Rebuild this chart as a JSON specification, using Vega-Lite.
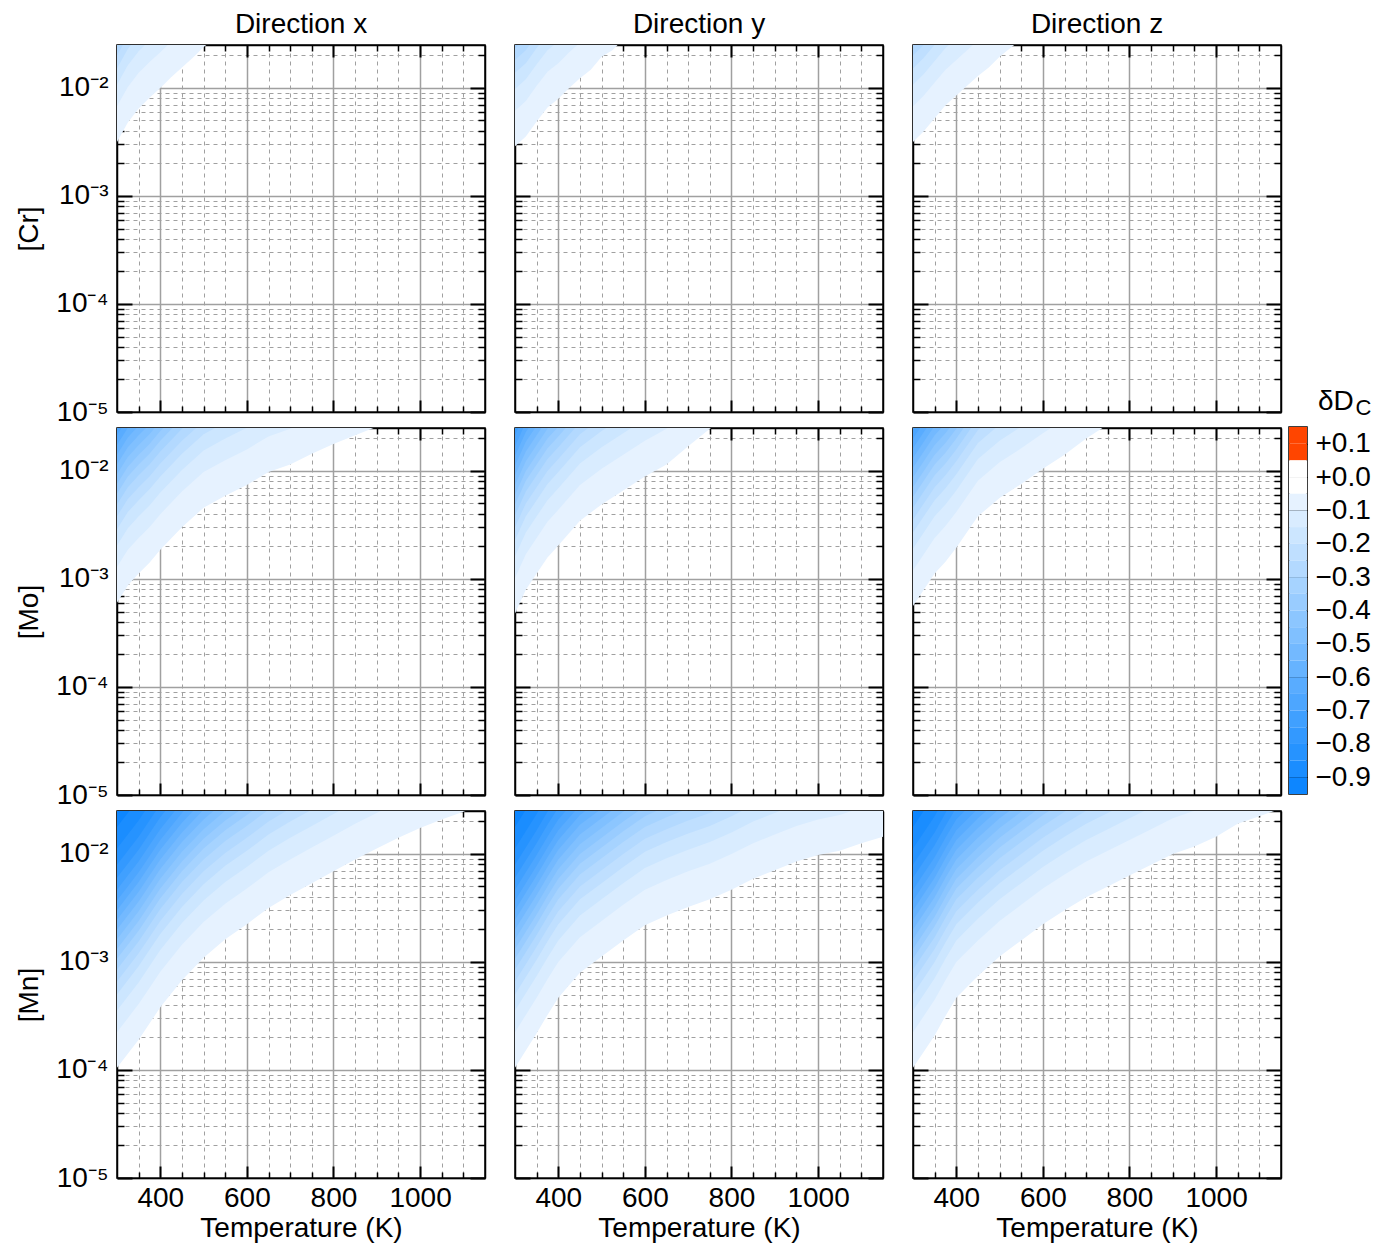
{
"$schema":"https://vega.github.io/schema/vega-lite/v6.json",
"background":"white",
"padding":{"left":15,"top":10,"right":5,"bottom":5},
"config":{"font":"Liberation Sans","view":{"stroke":"black","strokeWidth":1.5},
"axis":{"labelFontSize":28,"titleFontSize":28,"titleFontWeight":"normal","labelColor":"black","titleColor":"black","tickColor":"black","domainColor":"black","gridColor":"#a0a0a0","zindex":1,"labelFlush":false,"labelOverlap":false,"labelBound":false},
"title":{"fontSize":28,"fontWeight":"normal","color":"black"}},
"datasets":{
"cbar":[{"k":-3,"lo":0.1,"hi":0.15},{"k":-2,"lo":0.05,"hi":0.1},{"k":-1,"lo":0,"hi":0.05},{"k":0,"lo":-0.05,"hi":0},{"k":1,"lo":-0.1,"hi":-0.05},{"k":2,"lo":-0.15,"hi":-0.1},{"k":3,"lo":-0.2,"hi":-0.15},{"k":4,"lo":-0.25,"hi":-0.2},{"k":5,"lo":-0.3,"hi":-0.25},{"k":6,"lo":-0.35,"hi":-0.3},{"k":7,"lo":-0.4,"hi":-0.35},{"k":8,"lo":-0.45,"hi":-0.4},{"k":9,"lo":-0.5,"hi":-0.45},{"k":10,"lo":-0.55,"hi":-0.5},{"k":11,"lo":-0.6,"hi":-0.55},{"k":12,"lo":-0.65,"hi":-0.6},{"k":13,"lo":-0.7,"hi":-0.65},{"k":14,"lo":-0.75,"hi":-0.7},{"k":15,"lo":-0.8,"hi":-0.75},{"k":16,"lo":-0.85,"hi":-0.8},{"k":17,"lo":-0.9,"hi":-0.85},{"k":18,"lo":-0.95,"hi":-0.9}],
"Crx":[{"k":1,"T":300,"v":-2.50},{"k":1,"T":325,"v":-2.32},{"k":1,"T":350,"v":-2.19},{"k":1,"T":375,"v":-2.09},{"k":1,"T":400,"v":-2.00},{"k":1,"T":425,"v":-1.90},{"k":1,"T":450,"v":-1.81},{"k":1,"T":475,"v":-1.72},{"k":1,"T":500,"v":-1.62},{"k":1,"T":525,"v":-1.55},
{"k":2,"T":300,"v":-2.17},{"k":2,"T":325,"v":-1.99},{"k":2,"T":350,"v":-1.86},{"k":2,"T":375,"v":-1.76},{"k":2,"T":400,"v":-1.67},{"k":2,"T":425,"v":-1.57},
{"k":3,"T":300,"v":-1.97},{"k":3,"T":325,"v":-1.79},{"k":3,"T":350,"v":-1.66},{"k":3,"T":375,"v":-1.56},
{"k":4,"T":300,"v":-1.82},{"k":4,"T":325,"v":-1.64},{"k":4,"T":350,"v":-1.51},
{"k":5,"T":300,"v":-1.70},{"k":5,"T":325,"v":-1.52}],
"Cry":[{"k":1,"T":300,"v":-2.54},{"k":1,"T":325,"v":-2.45},{"k":1,"T":350,"v":-2.31},{"k":1,"T":375,"v":-2.18},{"k":1,"T":400,"v":-2.10},{"k":1,"T":425,"v":-2.00},{"k":1,"T":450,"v":-1.91},{"k":1,"T":475,"v":-1.83},{"k":1,"T":500,"v":-1.71},{"k":1,"T":525,"v":-1.65},{"k":1,"T":550,"v":-1.55},
{"k":2,"T":300,"v":-2.21},{"k":2,"T":325,"v":-2.12},{"k":2,"T":350,"v":-1.98},{"k":2,"T":375,"v":-1.85},{"k":2,"T":400,"v":-1.77},{"k":2,"T":425,"v":-1.67},{"k":2,"T":450,"v":-1.58},
{"k":3,"T":300,"v":-2.01},{"k":3,"T":325,"v":-1.92},{"k":3,"T":350,"v":-1.78},{"k":3,"T":375,"v":-1.65},{"k":3,"T":400,"v":-1.57},
{"k":4,"T":300,"v":-1.86},{"k":4,"T":325,"v":-1.77},{"k":4,"T":350,"v":-1.63},{"k":4,"T":375,"v":-1.50},
{"k":5,"T":300,"v":-1.74},{"k":5,"T":325,"v":-1.65},{"k":5,"T":350,"v":-1.51},
{"k":6,"T":300,"v":-1.63},{"k":6,"T":325,"v":-1.54}],
"Crz":[{"k":1,"T":300,"v":-2.50},{"k":1,"T":325,"v":-2.40},{"k":1,"T":350,"v":-2.28},{"k":1,"T":375,"v":-2.16},{"k":1,"T":400,"v":-2.07},{"k":1,"T":425,"v":-1.98},{"k":1,"T":450,"v":-1.89},{"k":1,"T":475,"v":-1.81},{"k":1,"T":500,"v":-1.71},{"k":1,"T":525,"v":-1.63},{"k":1,"T":550,"v":-1.55},
{"k":2,"T":300,"v":-2.17},{"k":2,"T":325,"v":-2.07},{"k":2,"T":350,"v":-1.95},{"k":2,"T":375,"v":-1.83},{"k":2,"T":400,"v":-1.74},{"k":2,"T":425,"v":-1.65},{"k":2,"T":450,"v":-1.56},
{"k":3,"T":300,"v":-1.97},{"k":3,"T":325,"v":-1.87},{"k":3,"T":350,"v":-1.75},{"k":3,"T":375,"v":-1.63},{"k":3,"T":400,"v":-1.54},
{"k":4,"T":300,"v":-1.82},{"k":4,"T":325,"v":-1.72},{"k":4,"T":350,"v":-1.60},
{"k":5,"T":300,"v":-1.70},{"k":5,"T":325,"v":-1.60}],
"Mox":[{"k":1,"T":300,"v":-3.22},{"k":1,"T":325,"v":-3.06},{"k":1,"T":350,"v":-2.95},{"k":1,"T":375,"v":-2.85},{"k":1,"T":400,"v":-2.73},{"k":1,"T":450,"v":-2.52},{"k":1,"T":500,"v":-2.34},{"k":1,"T":550,"v":-2.23},{"k":1,"T":600,"v":-2.13},{"k":1,"T":650,"v":-2.01},{"k":1,"T":700,"v":-1.94},{"k":1,"T":750,"v":-1.84},{"k":1,"T":800,"v":-1.75},{"k":1,"T":850,"v":-1.67},{"k":1,"T":900,"v":-1.59},
{"k":2,"T":300,"v":-2.89},{"k":2,"T":325,"v":-2.73},{"k":2,"T":350,"v":-2.62},{"k":2,"T":375,"v":-2.52},{"k":2,"T":400,"v":-2.40},{"k":2,"T":450,"v":-2.19},{"k":2,"T":500,"v":-2.01},{"k":2,"T":550,"v":-1.90},{"k":2,"T":600,"v":-1.80},{"k":2,"T":650,"v":-1.68},{"k":2,"T":700,"v":-1.61},{"k":2,"T":750,"v":-1.51},
{"k":3,"T":300,"v":-2.69},{"k":3,"T":325,"v":-2.53},{"k":3,"T":350,"v":-2.42},{"k":3,"T":375,"v":-2.32},{"k":3,"T":400,"v":-2.20},{"k":3,"T":450,"v":-1.99},{"k":3,"T":500,"v":-1.81},{"k":3,"T":550,"v":-1.70},{"k":3,"T":600,"v":-1.60},
{"k":4,"T":300,"v":-2.54},{"k":4,"T":325,"v":-2.38},{"k":4,"T":350,"v":-2.27},{"k":4,"T":375,"v":-2.17},{"k":4,"T":400,"v":-2.05},{"k":4,"T":450,"v":-1.84},{"k":4,"T":500,"v":-1.66},{"k":4,"T":550,"v":-1.55},
{"k":5,"T":300,"v":-2.42},{"k":5,"T":325,"v":-2.26},{"k":5,"T":350,"v":-2.15},{"k":5,"T":375,"v":-2.05},{"k":5,"T":400,"v":-1.93},{"k":5,"T":450,"v":-1.72},{"k":5,"T":500,"v":-1.54},
{"k":6,"T":300,"v":-2.31},{"k":6,"T":325,"v":-2.15},{"k":6,"T":350,"v":-2.04},{"k":6,"T":375,"v":-1.94},{"k":6,"T":400,"v":-1.82},{"k":6,"T":450,"v":-1.61},{"k":6,"T":500,"v":-1.43},
{"k":7,"T":300,"v":-2.21},{"k":7,"T":325,"v":-2.05},{"k":7,"T":350,"v":-1.94},{"k":7,"T":375,"v":-1.84},{"k":7,"T":400,"v":-1.72},{"k":7,"T":450,"v":-1.51},
{"k":8,"T":300,"v":-2.12},{"k":8,"T":325,"v":-1.96},{"k":8,"T":350,"v":-1.85},{"k":8,"T":375,"v":-1.75},{"k":8,"T":400,"v":-1.63},{"k":8,"T":450,"v":-1.42},
{"k":9,"T":300,"v":-2.03},{"k":9,"T":325,"v":-1.87},{"k":9,"T":350,"v":-1.76},{"k":9,"T":375,"v":-1.66},{"k":9,"T":400,"v":-1.54},
{"k":10,"T":300,"v":-1.94},{"k":10,"T":325,"v":-1.78},{"k":10,"T":350,"v":-1.67},{"k":10,"T":375,"v":-1.57},
{"k":11,"T":300,"v":-1.85},{"k":11,"T":325,"v":-1.69},{"k":11,"T":350,"v":-1.58},
{"k":12,"T":300,"v":-1.76},{"k":12,"T":325,"v":-1.60},
{"k":13,"T":300,"v":-1.67},{"k":13,"T":325,"v":-1.51}],
"Moy":[{"k":1,"T":300,"v":-3.32},{"k":1,"T":325,"v":-3.10},{"k":1,"T":350,"v":-2.95},{"k":1,"T":375,"v":-2.80},{"k":1,"T":400,"v":-2.69},{"k":1,"T":450,"v":-2.46},{"k":1,"T":500,"v":-2.31},{"k":1,"T":550,"v":-2.18},{"k":1,"T":600,"v":-2.05},{"k":1,"T":650,"v":-1.94},{"k":1,"T":700,"v":-1.77},{"k":1,"T":750,"v":-1.61},{"k":1,"T":800,"v":-1.48},
{"k":2,"T":300,"v":-2.99},{"k":2,"T":325,"v":-2.77},{"k":2,"T":350,"v":-2.62},{"k":2,"T":375,"v":-2.47},{"k":2,"T":400,"v":-2.36},{"k":2,"T":450,"v":-2.13},{"k":2,"T":500,"v":-1.98},{"k":2,"T":550,"v":-1.85},{"k":2,"T":600,"v":-1.72},{"k":2,"T":650,"v":-1.61},{"k":2,"T":700,"v":-1.44},
{"k":3,"T":300,"v":-2.79},{"k":3,"T":325,"v":-2.57},{"k":3,"T":350,"v":-2.42},{"k":3,"T":375,"v":-2.27},{"k":3,"T":400,"v":-2.16},{"k":3,"T":450,"v":-1.93},{"k":3,"T":500,"v":-1.78},{"k":3,"T":550,"v":-1.65},{"k":3,"T":600,"v":-1.52},
{"k":4,"T":300,"v":-2.64},{"k":4,"T":325,"v":-2.42},{"k":4,"T":350,"v":-2.27},{"k":4,"T":375,"v":-2.12},{"k":4,"T":400,"v":-2.01},{"k":4,"T":450,"v":-1.78},{"k":4,"T":500,"v":-1.63},{"k":4,"T":550,"v":-1.50},
{"k":5,"T":300,"v":-2.52},{"k":5,"T":325,"v":-2.30},{"k":5,"T":350,"v":-2.15},{"k":5,"T":375,"v":-2.00},{"k":5,"T":400,"v":-1.89},{"k":5,"T":450,"v":-1.66},{"k":5,"T":500,"v":-1.51},
{"k":6,"T":300,"v":-2.41},{"k":6,"T":325,"v":-2.19},{"k":6,"T":350,"v":-2.04},{"k":6,"T":375,"v":-1.89},{"k":6,"T":400,"v":-1.78},{"k":6,"T":450,"v":-1.55},
{"k":7,"T":300,"v":-2.31},{"k":7,"T":325,"v":-2.09},{"k":7,"T":350,"v":-1.94},{"k":7,"T":375,"v":-1.79},{"k":7,"T":400,"v":-1.68},{"k":7,"T":450,"v":-1.45},
{"k":8,"T":300,"v":-2.22},{"k":8,"T":325,"v":-2.00},{"k":8,"T":350,"v":-1.85},{"k":8,"T":375,"v":-1.70},{"k":8,"T":400,"v":-1.59},
{"k":9,"T":300,"v":-2.13},{"k":9,"T":325,"v":-1.91},{"k":9,"T":350,"v":-1.76},{"k":9,"T":375,"v":-1.61},{"k":9,"T":400,"v":-1.50},
{"k":10,"T":300,"v":-2.04},{"k":10,"T":325,"v":-1.82},{"k":10,"T":350,"v":-1.67},{"k":10,"T":375,"v":-1.52},
{"k":11,"T":300,"v":-1.95},{"k":11,"T":325,"v":-1.73},{"k":11,"T":350,"v":-1.58},
{"k":12,"T":300,"v":-1.86},{"k":12,"T":325,"v":-1.64},{"k":12,"T":350,"v":-1.49},
{"k":13,"T":300,"v":-1.77},{"k":13,"T":325,"v":-1.55},
{"k":14,"T":300,"v":-1.67},{"k":14,"T":325,"v":-1.45}],
"Moz":[{"k":1,"T":300,"v":-3.25},{"k":1,"T":325,"v":-3.10},{"k":1,"T":350,"v":-2.95},{"k":1,"T":375,"v":-2.84},{"k":1,"T":400,"v":-2.71},{"k":1,"T":450,"v":-2.42},{"k":1,"T":500,"v":-2.25},{"k":1,"T":550,"v":-2.12},{"k":1,"T":600,"v":-1.98},{"k":1,"T":650,"v":-1.85},{"k":1,"T":700,"v":-1.70},{"k":1,"T":750,"v":-1.57},
{"k":2,"T":300,"v":-2.92},{"k":2,"T":325,"v":-2.77},{"k":2,"T":350,"v":-2.62},{"k":2,"T":375,"v":-2.51},{"k":2,"T":400,"v":-2.38},{"k":2,"T":450,"v":-2.09},{"k":2,"T":500,"v":-1.92},{"k":2,"T":550,"v":-1.79},{"k":2,"T":600,"v":-1.65},{"k":2,"T":650,"v":-1.52},
{"k":3,"T":300,"v":-2.72},{"k":3,"T":325,"v":-2.57},{"k":3,"T":350,"v":-2.42},{"k":3,"T":375,"v":-2.31},{"k":3,"T":400,"v":-2.18},{"k":3,"T":450,"v":-1.89},{"k":3,"T":500,"v":-1.72},{"k":3,"T":550,"v":-1.59},
{"k":4,"T":300,"v":-2.57},{"k":4,"T":325,"v":-2.42},{"k":4,"T":350,"v":-2.27},{"k":4,"T":375,"v":-2.16},{"k":4,"T":400,"v":-2.03},{"k":4,"T":450,"v":-1.74},{"k":4,"T":500,"v":-1.57},
{"k":5,"T":300,"v":-2.45},{"k":5,"T":325,"v":-2.30},{"k":5,"T":350,"v":-2.15},{"k":5,"T":375,"v":-2.04},{"k":5,"T":400,"v":-1.91},{"k":5,"T":450,"v":-1.62},{"k":5,"T":500,"v":-1.45},
{"k":6,"T":300,"v":-2.34},{"k":6,"T":325,"v":-2.19},{"k":6,"T":350,"v":-2.04},{"k":6,"T":375,"v":-1.93},{"k":6,"T":400,"v":-1.80},{"k":6,"T":450,"v":-1.51},
{"k":7,"T":300,"v":-2.24},{"k":7,"T":325,"v":-2.09},{"k":7,"T":350,"v":-1.94},{"k":7,"T":375,"v":-1.83},{"k":7,"T":400,"v":-1.70},{"k":7,"T":450,"v":-1.41},
{"k":8,"T":300,"v":-2.15},{"k":8,"T":325,"v":-2.00},{"k":8,"T":350,"v":-1.85},{"k":8,"T":375,"v":-1.74},{"k":8,"T":400,"v":-1.61},{"k":8,"T":450,"v":-1.32},
{"k":9,"T":300,"v":-2.06},{"k":9,"T":325,"v":-1.91},{"k":9,"T":350,"v":-1.76},{"k":9,"T":375,"v":-1.65},{"k":9,"T":400,"v":-1.52},
{"k":10,"T":300,"v":-1.97},{"k":10,"T":325,"v":-1.82},{"k":10,"T":350,"v":-1.67},{"k":10,"T":375,"v":-1.56},
{"k":11,"T":300,"v":-1.88},{"k":11,"T":325,"v":-1.73},{"k":11,"T":350,"v":-1.58},
{"k":12,"T":300,"v":-1.79},{"k":12,"T":325,"v":-1.64},{"k":12,"T":350,"v":-1.49},
{"k":13,"T":300,"v":-1.70},{"k":13,"T":325,"v":-1.55}],
"Mnx":[{"k":1,"T":300,"v":-3.98},{"k":1,"T":325,"v":-3.85},{"k":1,"T":350,"v":-3.72},{"k":1,"T":375,"v":-3.57},{"k":1,"T":400,"v":-3.42},{"k":1,"T":450,"v":-3.17},{"k":1,"T":500,"v":-2.96},{"k":1,"T":550,"v":-2.79},{"k":1,"T":600,"v":-2.65},{"k":1,"T":650,"v":-2.50},{"k":1,"T":700,"v":-2.38},{"k":1,"T":750,"v":-2.27},{"k":1,"T":800,"v":-2.16},{"k":1,"T":850,"v":-2.05},{"k":1,"T":900,"v":-1.95},{"k":1,"T":950,"v":-1.85},{"k":1,"T":1000,"v":-1.76},{"k":1,"T":1050,"v":-1.68},{"k":1,"T":1100,"v":-1.61},{"k":1,"T":1150,"v":-1.53},
{"k":2,"T":300,"v":-3.65},{"k":2,"T":325,"v":-3.52},{"k":2,"T":350,"v":-3.39},{"k":2,"T":375,"v":-3.24},{"k":2,"T":400,"v":-3.09},{"k":2,"T":450,"v":-2.84},{"k":2,"T":500,"v":-2.63},{"k":2,"T":550,"v":-2.46},{"k":2,"T":600,"v":-2.32},{"k":2,"T":650,"v":-2.17},{"k":2,"T":700,"v":-2.05},{"k":2,"T":750,"v":-1.94},{"k":2,"T":800,"v":-1.83},{"k":2,"T":850,"v":-1.72},{"k":2,"T":900,"v":-1.62},{"k":2,"T":950,"v":-1.52},
{"k":3,"T":300,"v":-3.45},{"k":3,"T":325,"v":-3.32},{"k":3,"T":350,"v":-3.19},{"k":3,"T":375,"v":-3.04},{"k":3,"T":400,"v":-2.89},{"k":3,"T":450,"v":-2.64},{"k":3,"T":500,"v":-2.43},{"k":3,"T":550,"v":-2.26},{"k":3,"T":600,"v":-2.12},{"k":3,"T":650,"v":-1.97},{"k":3,"T":700,"v":-1.85},{"k":3,"T":750,"v":-1.74},{"k":3,"T":800,"v":-1.63},{"k":3,"T":850,"v":-1.52},
{"k":4,"T":300,"v":-3.30},{"k":4,"T":325,"v":-3.17},{"k":4,"T":350,"v":-3.04},{"k":4,"T":375,"v":-2.89},{"k":4,"T":400,"v":-2.74},{"k":4,"T":450,"v":-2.49},{"k":4,"T":500,"v":-2.28},{"k":4,"T":550,"v":-2.11},{"k":4,"T":600,"v":-1.97},{"k":4,"T":650,"v":-1.82},{"k":4,"T":700,"v":-1.70},{"k":4,"T":750,"v":-1.59},
{"k":5,"T":300,"v":-3.18},{"k":5,"T":325,"v":-3.05},{"k":5,"T":350,"v":-2.92},{"k":5,"T":375,"v":-2.77},{"k":5,"T":400,"v":-2.62},{"k":5,"T":450,"v":-2.37},{"k":5,"T":500,"v":-2.16},{"k":5,"T":550,"v":-1.99},{"k":5,"T":600,"v":-1.85},{"k":5,"T":650,"v":-1.70},{"k":5,"T":700,"v":-1.58},
{"k":6,"T":300,"v":-3.07},{"k":6,"T":325,"v":-2.94},{"k":6,"T":350,"v":-2.81},{"k":6,"T":375,"v":-2.66},{"k":6,"T":400,"v":-2.51},{"k":6,"T":450,"v":-2.26},{"k":6,"T":500,"v":-2.05},{"k":6,"T":550,"v":-1.88},{"k":6,"T":600,"v":-1.74},{"k":6,"T":650,"v":-1.59},
{"k":7,"T":300,"v":-2.97},{"k":7,"T":325,"v":-2.84},{"k":7,"T":350,"v":-2.71},{"k":7,"T":375,"v":-2.56},{"k":7,"T":400,"v":-2.41},{"k":7,"T":450,"v":-2.16},{"k":7,"T":500,"v":-1.95},{"k":7,"T":550,"v":-1.78},{"k":7,"T":600,"v":-1.64},{"k":7,"T":650,"v":-1.49},
{"k":8,"T":300,"v":-2.88},{"k":8,"T":325,"v":-2.75},{"k":8,"T":350,"v":-2.62},{"k":8,"T":375,"v":-2.47},{"k":8,"T":400,"v":-2.32},{"k":8,"T":450,"v":-2.07},{"k":8,"T":500,"v":-1.86},{"k":8,"T":550,"v":-1.69},{"k":8,"T":600,"v":-1.55},
{"k":9,"T":300,"v":-2.79},{"k":9,"T":325,"v":-2.66},{"k":9,"T":350,"v":-2.53},{"k":9,"T":375,"v":-2.38},{"k":9,"T":400,"v":-2.23},{"k":9,"T":450,"v":-1.98},{"k":9,"T":500,"v":-1.77},{"k":9,"T":550,"v":-1.60},
{"k":10,"T":300,"v":-2.70},{"k":10,"T":325,"v":-2.57},{"k":10,"T":350,"v":-2.44},{"k":10,"T":375,"v":-2.29},{"k":10,"T":400,"v":-2.14},{"k":10,"T":450,"v":-1.89},{"k":10,"T":500,"v":-1.68},{"k":10,"T":550,"v":-1.51},
{"k":11,"T":300,"v":-2.61},{"k":11,"T":325,"v":-2.48},{"k":11,"T":350,"v":-2.35},{"k":11,"T":375,"v":-2.20},{"k":11,"T":400,"v":-2.05},{"k":11,"T":450,"v":-1.80},{"k":11,"T":500,"v":-1.59},
{"k":12,"T":300,"v":-2.52},{"k":12,"T":325,"v":-2.39},{"k":12,"T":350,"v":-2.26},{"k":12,"T":375,"v":-2.11},{"k":12,"T":400,"v":-1.96},{"k":12,"T":450,"v":-1.71},{"k":12,"T":500,"v":-1.50},
{"k":13,"T":300,"v":-2.43},{"k":13,"T":325,"v":-2.30},{"k":13,"T":350,"v":-2.17},{"k":13,"T":375,"v":-2.02},{"k":13,"T":400,"v":-1.87},{"k":13,"T":450,"v":-1.62},{"k":13,"T":500,"v":-1.41},
{"k":14,"T":300,"v":-2.33},{"k":14,"T":325,"v":-2.20},{"k":14,"T":350,"v":-2.07},{"k":14,"T":375,"v":-1.92},{"k":14,"T":400,"v":-1.77},{"k":14,"T":450,"v":-1.52},
{"k":15,"T":300,"v":-2.22},{"k":15,"T":325,"v":-2.09},{"k":15,"T":350,"v":-1.96},{"k":15,"T":375,"v":-1.81},{"k":15,"T":400,"v":-1.66},{"k":15,"T":450,"v":-1.41},
{"k":16,"T":300,"v":-2.10},{"k":16,"T":325,"v":-1.97},{"k":16,"T":350,"v":-1.84},{"k":16,"T":375,"v":-1.69},{"k":16,"T":400,"v":-1.54},
{"k":17,"T":300,"v":-1.95},{"k":17,"T":325,"v":-1.82},{"k":17,"T":350,"v":-1.69},{"k":17,"T":375,"v":-1.54},
{"k":18,"T":300,"v":-1.75},{"k":18,"T":325,"v":-1.62},{"k":18,"T":350,"v":-1.49}],
"Mny":[{"k":1,"T":300,"v":-3.98},{"k":1,"T":325,"v":-3.82},{"k":1,"T":350,"v":-3.66},{"k":1,"T":375,"v":-3.49},{"k":1,"T":400,"v":-3.33},{"k":1,"T":450,"v":-3.10},{"k":1,"T":500,"v":-2.95},{"k":1,"T":550,"v":-2.80},{"k":1,"T":600,"v":-2.66},{"k":1,"T":650,"v":-2.57},{"k":1,"T":700,"v":-2.49},{"k":1,"T":750,"v":-2.42},{"k":1,"T":800,"v":-2.33},{"k":1,"T":850,"v":-2.23},{"k":1,"T":900,"v":-2.15},{"k":1,"T":950,"v":-2.07},{"k":1,"T":1000,"v":-2.01},{"k":1,"T":1050,"v":-1.97},{"k":1,"T":1100,"v":-1.90},{"k":1,"T":1150,"v":-1.84},
{"k":2,"T":300,"v":-3.65},{"k":2,"T":325,"v":-3.49},{"k":2,"T":350,"v":-3.33},{"k":2,"T":375,"v":-3.16},{"k":2,"T":400,"v":-3.00},{"k":2,"T":450,"v":-2.77},{"k":2,"T":500,"v":-2.62},{"k":2,"T":550,"v":-2.47},{"k":2,"T":600,"v":-2.33},{"k":2,"T":650,"v":-2.24},{"k":2,"T":700,"v":-2.16},{"k":2,"T":750,"v":-2.09},{"k":2,"T":800,"v":-2.00},{"k":2,"T":850,"v":-1.90},{"k":2,"T":900,"v":-1.82},{"k":2,"T":950,"v":-1.74},{"k":2,"T":1000,"v":-1.68},{"k":2,"T":1050,"v":-1.64},{"k":2,"T":1100,"v":-1.57},
{"k":3,"T":300,"v":-3.45},{"k":3,"T":325,"v":-3.29},{"k":3,"T":350,"v":-3.13},{"k":3,"T":375,"v":-2.96},{"k":3,"T":400,"v":-2.80},{"k":3,"T":450,"v":-2.57},{"k":3,"T":500,"v":-2.42},{"k":3,"T":550,"v":-2.27},{"k":3,"T":600,"v":-2.13},{"k":3,"T":650,"v":-2.04},{"k":3,"T":700,"v":-1.96},{"k":3,"T":750,"v":-1.89},{"k":3,"T":800,"v":-1.80},{"k":3,"T":850,"v":-1.70},{"k":3,"T":900,"v":-1.62},{"k":3,"T":950,"v":-1.54},
{"k":4,"T":300,"v":-3.30},{"k":4,"T":325,"v":-3.14},{"k":4,"T":350,"v":-2.98},{"k":4,"T":375,"v":-2.81},{"k":4,"T":400,"v":-2.65},{"k":4,"T":450,"v":-2.42},{"k":4,"T":500,"v":-2.27},{"k":4,"T":550,"v":-2.12},{"k":4,"T":600,"v":-1.98},{"k":4,"T":650,"v":-1.89},{"k":4,"T":700,"v":-1.81},{"k":4,"T":750,"v":-1.74},{"k":4,"T":800,"v":-1.65},{"k":4,"T":850,"v":-1.55},
{"k":5,"T":300,"v":-3.18},{"k":5,"T":325,"v":-3.02},{"k":5,"T":350,"v":-2.86},{"k":5,"T":375,"v":-2.69},{"k":5,"T":400,"v":-2.53},{"k":5,"T":450,"v":-2.30},{"k":5,"T":500,"v":-2.15},{"k":5,"T":550,"v":-2.00},{"k":5,"T":600,"v":-1.86},{"k":5,"T":650,"v":-1.77},{"k":5,"T":700,"v":-1.69},{"k":5,"T":750,"v":-1.62},{"k":5,"T":800,"v":-1.53},
{"k":6,"T":300,"v":-3.07},{"k":6,"T":325,"v":-2.91},{"k":6,"T":350,"v":-2.75},{"k":6,"T":375,"v":-2.58},{"k":6,"T":400,"v":-2.42},{"k":6,"T":450,"v":-2.19},{"k":6,"T":500,"v":-2.04},{"k":6,"T":550,"v":-1.89},{"k":6,"T":600,"v":-1.75},{"k":6,"T":650,"v":-1.66},{"k":6,"T":700,"v":-1.58},
{"k":7,"T":300,"v":-2.97},{"k":7,"T":325,"v":-2.81},{"k":7,"T":350,"v":-2.65},{"k":7,"T":375,"v":-2.48},{"k":7,"T":400,"v":-2.32},{"k":7,"T":450,"v":-2.09},{"k":7,"T":500,"v":-1.94},{"k":7,"T":550,"v":-1.79},{"k":7,"T":600,"v":-1.65},{"k":7,"T":650,"v":-1.56},
{"k":8,"T":300,"v":-2.88},{"k":8,"T":325,"v":-2.72},{"k":8,"T":350,"v":-2.56},{"k":8,"T":375,"v":-2.39},{"k":8,"T":400,"v":-2.23},{"k":8,"T":450,"v":-2.00},{"k":8,"T":500,"v":-1.85},{"k":8,"T":550,"v":-1.70},{"k":8,"T":600,"v":-1.56},
{"k":9,"T":300,"v":-2.79},{"k":9,"T":325,"v":-2.63},{"k":9,"T":350,"v":-2.47},{"k":9,"T":375,"v":-2.30},{"k":9,"T":400,"v":-2.14},{"k":9,"T":450,"v":-1.91},{"k":9,"T":500,"v":-1.76},{"k":9,"T":550,"v":-1.61},{"k":9,"T":600,"v":-1.47},
{"k":10,"T":300,"v":-2.70},{"k":10,"T":325,"v":-2.54},{"k":10,"T":350,"v":-2.38},{"k":10,"T":375,"v":-2.21},{"k":10,"T":400,"v":-2.05},{"k":10,"T":450,"v":-1.82},{"k":10,"T":500,"v":-1.67},{"k":10,"T":550,"v":-1.52},
{"k":11,"T":300,"v":-2.61},{"k":11,"T":325,"v":-2.45},{"k":11,"T":350,"v":-2.29},{"k":11,"T":375,"v":-2.12},{"k":11,"T":400,"v":-1.96},{"k":11,"T":450,"v":-1.73},{"k":11,"T":500,"v":-1.58},
{"k":12,"T":300,"v":-2.52},{"k":12,"T":325,"v":-2.36},{"k":12,"T":350,"v":-2.20},{"k":12,"T":375,"v":-2.03},{"k":12,"T":400,"v":-1.87},{"k":12,"T":450,"v":-1.64},{"k":12,"T":500,"v":-1.49},
{"k":13,"T":300,"v":-2.43},{"k":13,"T":325,"v":-2.27},{"k":13,"T":350,"v":-2.11},{"k":13,"T":375,"v":-1.94},{"k":13,"T":400,"v":-1.78},{"k":13,"T":450,"v":-1.55},
{"k":14,"T":300,"v":-2.33},{"k":14,"T":325,"v":-2.17},{"k":14,"T":350,"v":-2.01},{"k":14,"T":375,"v":-1.84},{"k":14,"T":400,"v":-1.68},{"k":14,"T":450,"v":-1.45},
{"k":15,"T":300,"v":-2.22},{"k":15,"T":325,"v":-2.06},{"k":15,"T":350,"v":-1.90},{"k":15,"T":375,"v":-1.73},{"k":15,"T":400,"v":-1.57},
{"k":16,"T":300,"v":-2.10},{"k":16,"T":325,"v":-1.94},{"k":16,"T":350,"v":-1.78},{"k":16,"T":375,"v":-1.61},{"k":16,"T":400,"v":-1.45},
{"k":17,"T":300,"v":-1.95},{"k":17,"T":325,"v":-1.79},{"k":17,"T":350,"v":-1.63},{"k":17,"T":375,"v":-1.46},
{"k":18,"T":300,"v":-1.75},{"k":18,"T":325,"v":-1.59}],
"Mnz":[{"k":1,"T":300,"v":-3.98},{"k":1,"T":325,"v":-3.83},{"k":1,"T":350,"v":-3.68},{"k":1,"T":375,"v":-3.50},{"k":1,"T":400,"v":-3.33},{"k":1,"T":450,"v":-3.13},{"k":1,"T":500,"v":-2.95},{"k":1,"T":550,"v":-2.80},{"k":1,"T":600,"v":-2.65},{"k":1,"T":650,"v":-2.52},{"k":1,"T":700,"v":-2.40},{"k":1,"T":750,"v":-2.30},{"k":1,"T":800,"v":-2.20},{"k":1,"T":850,"v":-2.10},{"k":1,"T":900,"v":-2.00},{"k":1,"T":950,"v":-1.93},{"k":1,"T":1000,"v":-1.84},{"k":1,"T":1050,"v":-1.72},{"k":1,"T":1100,"v":-1.65},{"k":1,"T":1150,"v":-1.58},
{"k":2,"T":300,"v":-3.65},{"k":2,"T":325,"v":-3.50},{"k":2,"T":350,"v":-3.35},{"k":2,"T":375,"v":-3.17},{"k":2,"T":400,"v":-3.00},{"k":2,"T":450,"v":-2.80},{"k":2,"T":500,"v":-2.62},{"k":2,"T":550,"v":-2.47},{"k":2,"T":600,"v":-2.32},{"k":2,"T":650,"v":-2.19},{"k":2,"T":700,"v":-2.07},{"k":2,"T":750,"v":-1.97},{"k":2,"T":800,"v":-1.87},{"k":2,"T":850,"v":-1.77},{"k":2,"T":900,"v":-1.67},{"k":2,"T":950,"v":-1.60},
{"k":3,"T":300,"v":-3.45},{"k":3,"T":325,"v":-3.30},{"k":3,"T":350,"v":-3.15},{"k":3,"T":375,"v":-2.97},{"k":3,"T":400,"v":-2.80},{"k":3,"T":450,"v":-2.60},{"k":3,"T":500,"v":-2.42},{"k":3,"T":550,"v":-2.27},{"k":3,"T":600,"v":-2.12},{"k":3,"T":650,"v":-1.99},{"k":3,"T":700,"v":-1.87},{"k":3,"T":750,"v":-1.77},{"k":3,"T":800,"v":-1.67},{"k":3,"T":850,"v":-1.57},
{"k":4,"T":300,"v":-3.30},{"k":4,"T":325,"v":-3.15},{"k":4,"T":350,"v":-3.00},{"k":4,"T":375,"v":-2.82},{"k":4,"T":400,"v":-2.65},{"k":4,"T":450,"v":-2.45},{"k":4,"T":500,"v":-2.27},{"k":4,"T":550,"v":-2.12},{"k":4,"T":600,"v":-1.97},{"k":4,"T":650,"v":-1.84},{"k":4,"T":700,"v":-1.72},{"k":4,"T":750,"v":-1.62},{"k":4,"T":800,"v":-1.52},
{"k":5,"T":300,"v":-3.18},{"k":5,"T":325,"v":-3.03},{"k":5,"T":350,"v":-2.88},{"k":5,"T":375,"v":-2.70},{"k":5,"T":400,"v":-2.53},{"k":5,"T":450,"v":-2.33},{"k":5,"T":500,"v":-2.15},{"k":5,"T":550,"v":-2.00},{"k":5,"T":600,"v":-1.85},{"k":5,"T":650,"v":-1.72},{"k":5,"T":700,"v":-1.60},
{"k":6,"T":300,"v":-3.07},{"k":6,"T":325,"v":-2.92},{"k":6,"T":350,"v":-2.77},{"k":6,"T":375,"v":-2.59},{"k":6,"T":400,"v":-2.42},{"k":6,"T":450,"v":-2.22},{"k":6,"T":500,"v":-2.04},{"k":6,"T":550,"v":-1.89},{"k":6,"T":600,"v":-1.74},{"k":6,"T":650,"v":-1.61},{"k":6,"T":700,"v":-1.49},
{"k":7,"T":300,"v":-2.97},{"k":7,"T":325,"v":-2.82},{"k":7,"T":350,"v":-2.67},{"k":7,"T":375,"v":-2.49},{"k":7,"T":400,"v":-2.32},{"k":7,"T":450,"v":-2.12},{"k":7,"T":500,"v":-1.94},{"k":7,"T":550,"v":-1.79},{"k":7,"T":600,"v":-1.64},{"k":7,"T":650,"v":-1.51},
{"k":8,"T":300,"v":-2.88},{"k":8,"T":325,"v":-2.73},{"k":8,"T":350,"v":-2.58},{"k":8,"T":375,"v":-2.40},{"k":8,"T":400,"v":-2.23},{"k":8,"T":450,"v":-2.03},{"k":8,"T":500,"v":-1.85},{"k":8,"T":550,"v":-1.70},{"k":8,"T":600,"v":-1.55},
{"k":9,"T":300,"v":-2.79},{"k":9,"T":325,"v":-2.64},{"k":9,"T":350,"v":-2.49},{"k":9,"T":375,"v":-2.31},{"k":9,"T":400,"v":-2.14},{"k":9,"T":450,"v":-1.94},{"k":9,"T":500,"v":-1.76},{"k":9,"T":550,"v":-1.61},{"k":9,"T":600,"v":-1.46},
{"k":10,"T":300,"v":-2.70},{"k":10,"T":325,"v":-2.55},{"k":10,"T":350,"v":-2.40},{"k":10,"T":375,"v":-2.22},{"k":10,"T":400,"v":-2.05},{"k":10,"T":450,"v":-1.85},{"k":10,"T":500,"v":-1.67},{"k":10,"T":550,"v":-1.52},
{"k":11,"T":300,"v":-2.61},{"k":11,"T":325,"v":-2.46},{"k":11,"T":350,"v":-2.31},{"k":11,"T":375,"v":-2.13},{"k":11,"T":400,"v":-1.96},{"k":11,"T":450,"v":-1.76},{"k":11,"T":500,"v":-1.58},
{"k":12,"T":300,"v":-2.52},{"k":12,"T":325,"v":-2.37},{"k":12,"T":350,"v":-2.22},{"k":12,"T":375,"v":-2.04},{"k":12,"T":400,"v":-1.87},{"k":12,"T":450,"v":-1.67},{"k":12,"T":500,"v":-1.49},
{"k":13,"T":300,"v":-2.43},{"k":13,"T":325,"v":-2.28},{"k":13,"T":350,"v":-2.13},{"k":13,"T":375,"v":-1.95},{"k":13,"T":400,"v":-1.78},{"k":13,"T":450,"v":-1.58},
{"k":14,"T":300,"v":-2.33},{"k":14,"T":325,"v":-2.18},{"k":14,"T":350,"v":-2.03},{"k":14,"T":375,"v":-1.85},{"k":14,"T":400,"v":-1.68},{"k":14,"T":450,"v":-1.48},
{"k":15,"T":300,"v":-2.22},{"k":15,"T":325,"v":-2.07},{"k":15,"T":350,"v":-1.92},{"k":15,"T":375,"v":-1.74},{"k":15,"T":400,"v":-1.57},
{"k":16,"T":300,"v":-2.10},{"k":16,"T":325,"v":-1.95},{"k":16,"T":350,"v":-1.80},{"k":16,"T":375,"v":-1.62},{"k":16,"T":400,"v":-1.45},
{"k":17,"T":300,"v":-1.95},{"k":17,"T":325,"v":-1.80},{"k":17,"T":350,"v":-1.65},{"k":17,"T":375,"v":-1.47},
{"k":18,"T":300,"v":-1.75},{"k":18,"T":325,"v":-1.60}]
},
"spacing":4,
"hconcat":[
{"spacing":-1,"vconcat":[
{"hconcat":[
{"width":368,"height":367,"data":{"name":"Crx"},"title":{"text":"Direction x","anchor":"middle","frame":"group","offset":-23,"baseline":"bottom"},
"layer":[
{"mark":{"type":"area","clip":true,"interpolate":"linear"},"encoding":{"x":{"field":"T","type":"quantitative","scale":{"domain":[300,1150],"nice":false,"zero":false},"axis":{"orient":"bottom","values":[350,450,500,550,650,700,750,850,900,950,1050,1100],"grid":true,"gridDash":[4,4],"gridWidth":1,"tickSize":-6,"tickWidth":1.5,"labels":false,"domain":false,"title":null}},"y":{"field":"v","type":"quantitative","scale":{"domain":[-5,-1.602],"nice":false,"zero":false},"axis":{"orient":"left","values":[-4.699,-4.523,-4.398,-4.301,-4.222,-4.155,-4.097,-4.046,-3.699,-3.523,-3.398,-3.301,-3.222,-3.155,-3.097,-3.046,-2.699,-2.523,-2.398,-2.301,-2.222,-2.155,-2.097,-2.046,-1.699],"grid":true,"gridDash":[4,4],"gridWidth":1,"tickSize":-7,"tickWidth":1.5,"labels":false,"domain":false,"title":null}},"y2":{"datum":-1.602},"color":{"field":"k","type":"nominal","legend":null,"scale":{"domain":[-3,-2,-1,0,1,2,3,4,5,6,7,8,9,10,11,12,13,14,15,16,17,18],"range":["#ff4500","#ff4500","#ffffff","#ffffff","#e6f2ff","#d9ecff","#cce6ff","#bfdfff","#b3d9ff","#a6d3ff","#99ccff","#8cc6ff","#80c0ff","#73b9ff","#66b3ff","#59acff","#4da6ff","#40a0ff","#3399ff","#2693ff","#1a8dff","#0d86ff"]}}}},
{"mark":{"type":"point","opacity":0},"encoding":{"x":{"datum":700,"type":"quantitative","scale":{"domain":[300,1150],"nice":false,"zero":false},"axis":{"orient":"bottom","values":[400,600,800,1000],"grid":true,"gridWidth":1.5,"tickSize":-12,"tickWidth":2,"labels":false,"domain":true,"domainWidth":1.5,"title":null}},"y":{"datum":-3,"type":"quantitative","scale":{"domain":[-5,-1.602],"nice":false,"zero":false},"axis":{"orient":"left","values":[-5,-4,-3,-2],"grid":true,"gridWidth":1.5,"tickSize":-15,"tickWidth":2,"labels":true,"labelPadding":24,"labelExpr":"datum.value == -5 ? '10⁻⁵' : datum.value == -4 ? '10⁻⁴' : datum.value == -3 ? '10⁻³' : '10⁻²'","domain":true,"domainWidth":1.5,"title":"[Cr]","titlePadding":12}}}},
{"mark":{"type":"point","opacity":0},"encoding":{"x":{"datum":700,"type":"quantitative","scale":{"domain":[300,1150],"nice":false,"zero":false},"axis":{"orient":"top","values":[350,450,500,550,650,700,750,850,900,950,1050,1100],"grid":false,"tickSize":-6,"tickWidth":1.5,"labels":false,"domain":false,"title":null}},"y":{"datum":-3,"type":"quantitative","scale":{"domain":[-5,-1.602],"nice":false,"zero":false},"axis":{"orient":"right","values":[-4.699,-4.523,-4.398,-4.301,-4.222,-4.155,-4.097,-4.046,-3.699,-3.523,-3.398,-3.301,-3.222,-3.155,-3.097,-3.046,-2.699,-2.523,-2.398,-2.301,-2.222,-2.155,-2.097,-2.046,-1.699],"grid":false,"tickSize":-7,"tickWidth":1.5,"labels":false,"domain":false,"title":null}}}},
{"mark":{"type":"point","opacity":0},"encoding":{"x":{"datum":700,"type":"quantitative","scale":{"domain":[300,1150],"nice":false,"zero":false},"axis":{"orient":"top","values":[400,600,800,1000],"grid":false,"tickSize":-12,"tickWidth":2,"labels":false,"domain":true,"domainWidth":1.5,"title":null}},"y":{"datum":-3,"type":"quantitative","scale":{"domain":[-5,-1.602],"nice":false,"zero":false},"axis":{"orient":"right","values":[-5,-4,-3,-2],"grid":false,"tickSize":-15,"tickWidth":2,"labels":false,"domain":true,"domainWidth":1.5,"title":null}}}}
],"resolve":{"axis":{"x":"independent","y":"independent"}}},
{"width":368,"height":367,"data":{"name":"Cry"},"title":{"text":"Direction y","anchor":"middle","frame":"group","offset":-23,"baseline":"bottom"},
"layer":[
{"mark":{"type":"area","clip":true,"interpolate":"linear"},"encoding":{"x":{"field":"T","type":"quantitative","scale":{"domain":[300,1150],"nice":false,"zero":false},"axis":{"orient":"bottom","values":[350,450,500,550,650,700,750,850,900,950,1050,1100],"grid":true,"gridDash":[4,4],"gridWidth":1,"tickSize":-6,"tickWidth":1.5,"labels":false,"domain":false,"title":null}},"y":{"field":"v","type":"quantitative","scale":{"domain":[-5,-1.602],"nice":false,"zero":false},"axis":{"orient":"left","values":[-4.699,-4.523,-4.398,-4.301,-4.222,-4.155,-4.097,-4.046,-3.699,-3.523,-3.398,-3.301,-3.222,-3.155,-3.097,-3.046,-2.699,-2.523,-2.398,-2.301,-2.222,-2.155,-2.097,-2.046,-1.699],"grid":true,"gridDash":[4,4],"gridWidth":1,"tickSize":-7,"tickWidth":1.5,"labels":false,"domain":false,"title":null}},"y2":{"datum":-1.602},"color":{"field":"k","type":"nominal","legend":null,"scale":{"domain":[-3,-2,-1,0,1,2,3,4,5,6,7,8,9,10,11,12,13,14,15,16,17,18],"range":["#ff4500","#ff4500","#ffffff","#ffffff","#e6f2ff","#d9ecff","#cce6ff","#bfdfff","#b3d9ff","#a6d3ff","#99ccff","#8cc6ff","#80c0ff","#73b9ff","#66b3ff","#59acff","#4da6ff","#40a0ff","#3399ff","#2693ff","#1a8dff","#0d86ff"]}}}},
{"mark":{"type":"point","opacity":0},"encoding":{"x":{"datum":700,"type":"quantitative","scale":{"domain":[300,1150],"nice":false,"zero":false},"axis":{"orient":"bottom","values":[400,600,800,1000],"grid":true,"gridWidth":1.5,"tickSize":-12,"tickWidth":2,"labels":false,"domain":true,"domainWidth":1.5,"title":null}},"y":{"datum":-3,"type":"quantitative","scale":{"domain":[-5,-1.602],"nice":false,"zero":false},"axis":{"orient":"left","values":[-5,-4,-3,-2],"grid":true,"gridWidth":1.5,"tickSize":-15,"tickWidth":2,"labels":false,"domain":true,"domainWidth":1.5,"title":null}}}},
{"mark":{"type":"point","opacity":0},"encoding":{"x":{"datum":700,"type":"quantitative","scale":{"domain":[300,1150],"nice":false,"zero":false},"axis":{"orient":"top","values":[350,450,500,550,650,700,750,850,900,950,1050,1100],"grid":false,"tickSize":-6,"tickWidth":1.5,"labels":false,"domain":false,"title":null}},"y":{"datum":-3,"type":"quantitative","scale":{"domain":[-5,-1.602],"nice":false,"zero":false},"axis":{"orient":"right","values":[-4.699,-4.523,-4.398,-4.301,-4.222,-4.155,-4.097,-4.046,-3.699,-3.523,-3.398,-3.301,-3.222,-3.155,-3.097,-3.046,-2.699,-2.523,-2.398,-2.301,-2.222,-2.155,-2.097,-2.046,-1.699],"grid":false,"tickSize":-7,"tickWidth":1.5,"labels":false,"domain":false,"title":null}}}},
{"mark":{"type":"point","opacity":0},"encoding":{"x":{"datum":700,"type":"quantitative","scale":{"domain":[300,1150],"nice":false,"zero":false},"axis":{"orient":"top","values":[400,600,800,1000],"grid":false,"tickSize":-12,"tickWidth":2,"labels":false,"domain":true,"domainWidth":1.5,"title":null}},"y":{"datum":-3,"type":"quantitative","scale":{"domain":[-5,-1.602],"nice":false,"zero":false},"axis":{"orient":"right","values":[-5,-4,-3,-2],"grid":false,"tickSize":-15,"tickWidth":2,"labels":false,"domain":true,"domainWidth":1.5,"title":null}}}}
],"resolve":{"axis":{"x":"independent","y":"independent"}}},
{"width":368,"height":367,"data":{"name":"Crz"},"title":{"text":"Direction z","anchor":"middle","frame":"group","offset":-23,"baseline":"bottom"},
"layer":[
{"mark":{"type":"area","clip":true,"interpolate":"linear"},"encoding":{"x":{"field":"T","type":"quantitative","scale":{"domain":[300,1150],"nice":false,"zero":false},"axis":{"orient":"bottom","values":[350,450,500,550,650,700,750,850,900,950,1050,1100],"grid":true,"gridDash":[4,4],"gridWidth":1,"tickSize":-6,"tickWidth":1.5,"labels":false,"domain":false,"title":null}},"y":{"field":"v","type":"quantitative","scale":{"domain":[-5,-1.602],"nice":false,"zero":false},"axis":{"orient":"left","values":[-4.699,-4.523,-4.398,-4.301,-4.222,-4.155,-4.097,-4.046,-3.699,-3.523,-3.398,-3.301,-3.222,-3.155,-3.097,-3.046,-2.699,-2.523,-2.398,-2.301,-2.222,-2.155,-2.097,-2.046,-1.699],"grid":true,"gridDash":[4,4],"gridWidth":1,"tickSize":-7,"tickWidth":1.5,"labels":false,"domain":false,"title":null}},"y2":{"datum":-1.602},"color":{"field":"k","type":"nominal","legend":null,"scale":{"domain":[-3,-2,-1,0,1,2,3,4,5,6,7,8,9,10,11,12,13,14,15,16,17,18],"range":["#ff4500","#ff4500","#ffffff","#ffffff","#e6f2ff","#d9ecff","#cce6ff","#bfdfff","#b3d9ff","#a6d3ff","#99ccff","#8cc6ff","#80c0ff","#73b9ff","#66b3ff","#59acff","#4da6ff","#40a0ff","#3399ff","#2693ff","#1a8dff","#0d86ff"]}}}},
{"mark":{"type":"point","opacity":0},"encoding":{"x":{"datum":700,"type":"quantitative","scale":{"domain":[300,1150],"nice":false,"zero":false},"axis":{"orient":"bottom","values":[400,600,800,1000],"grid":true,"gridWidth":1.5,"tickSize":-12,"tickWidth":2,"labels":false,"domain":true,"domainWidth":1.5,"title":null}},"y":{"datum":-3,"type":"quantitative","scale":{"domain":[-5,-1.602],"nice":false,"zero":false},"axis":{"orient":"left","values":[-5,-4,-3,-2],"grid":true,"gridWidth":1.5,"tickSize":-15,"tickWidth":2,"labels":false,"domain":true,"domainWidth":1.5,"title":null}}}},
{"mark":{"type":"point","opacity":0},"encoding":{"x":{"datum":700,"type":"quantitative","scale":{"domain":[300,1150],"nice":false,"zero":false},"axis":{"orient":"top","values":[350,450,500,550,650,700,750,850,900,950,1050,1100],"grid":false,"tickSize":-6,"tickWidth":1.5,"labels":false,"domain":false,"title":null}},"y":{"datum":-3,"type":"quantitative","scale":{"domain":[-5,-1.602],"nice":false,"zero":false},"axis":{"orient":"right","values":[-4.699,-4.523,-4.398,-4.301,-4.222,-4.155,-4.097,-4.046,-3.699,-3.523,-3.398,-3.301,-3.222,-3.155,-3.097,-3.046,-2.699,-2.523,-2.398,-2.301,-2.222,-2.155,-2.097,-2.046,-1.699],"grid":false,"tickSize":-7,"tickWidth":1.5,"labels":false,"domain":false,"title":null}}}},
{"mark":{"type":"point","opacity":0},"encoding":{"x":{"datum":700,"type":"quantitative","scale":{"domain":[300,1150],"nice":false,"zero":false},"axis":{"orient":"top","values":[400,600,800,1000],"grid":false,"tickSize":-12,"tickWidth":2,"labels":false,"domain":true,"domainWidth":1.5,"title":null}},"y":{"datum":-3,"type":"quantitative","scale":{"domain":[-5,-1.602],"nice":false,"zero":false},"axis":{"orient":"right","values":[-5,-4,-3,-2],"grid":false,"tickSize":-15,"tickWidth":2,"labels":false,"domain":true,"domainWidth":1.5,"title":null}}}}
],"resolve":{"axis":{"x":"independent","y":"independent"}}}
],"spacing":26},
{"hconcat":[
{"width":368,"height":367,"data":{"name":"Mox"},
"layer":[
{"mark":{"type":"area","clip":true,"interpolate":"linear"},"encoding":{"x":{"field":"T","type":"quantitative","scale":{"domain":[300,1150],"nice":false,"zero":false},"axis":{"orient":"bottom","values":[350,450,500,550,650,700,750,850,900,950,1050,1100],"grid":true,"gridDash":[4,4],"gridWidth":1,"tickSize":-6,"tickWidth":1.5,"labels":false,"domain":false,"title":null}},"y":{"field":"v","type":"quantitative","scale":{"domain":[-5,-1.602],"nice":false,"zero":false},"axis":{"orient":"left","values":[-4.699,-4.523,-4.398,-4.301,-4.222,-4.155,-4.097,-4.046,-3.699,-3.523,-3.398,-3.301,-3.222,-3.155,-3.097,-3.046,-2.699,-2.523,-2.398,-2.301,-2.222,-2.155,-2.097,-2.046,-1.699],"grid":true,"gridDash":[4,4],"gridWidth":1,"tickSize":-7,"tickWidth":1.5,"labels":false,"domain":false,"title":null}},"y2":{"datum":-1.602},"color":{"field":"k","type":"nominal","legend":null,"scale":{"domain":[-3,-2,-1,0,1,2,3,4,5,6,7,8,9,10,11,12,13,14,15,16,17,18],"range":["#ff4500","#ff4500","#ffffff","#ffffff","#e6f2ff","#d9ecff","#cce6ff","#bfdfff","#b3d9ff","#a6d3ff","#99ccff","#8cc6ff","#80c0ff","#73b9ff","#66b3ff","#59acff","#4da6ff","#40a0ff","#3399ff","#2693ff","#1a8dff","#0d86ff"]}}}},
{"mark":{"type":"point","opacity":0},"encoding":{"x":{"datum":700,"type":"quantitative","scale":{"domain":[300,1150],"nice":false,"zero":false},"axis":{"orient":"bottom","values":[400,600,800,1000],"grid":true,"gridWidth":1.5,"tickSize":-12,"tickWidth":2,"labels":false,"domain":true,"domainWidth":1.5,"title":null}},"y":{"datum":-3,"type":"quantitative","scale":{"domain":[-5,-1.602],"nice":false,"zero":false},"axis":{"orient":"left","values":[-5,-4,-3,-2],"grid":true,"gridWidth":1.5,"tickSize":-15,"tickWidth":2,"labels":true,"labelPadding":24,"labelExpr":"datum.value == -5 ? '10⁻⁵' : datum.value == -4 ? '10⁻⁴' : datum.value == -3 ? '10⁻³' : '10⁻²'","domain":true,"domainWidth":1.5,"title":"[Mo]","titlePadding":12}}}},
{"mark":{"type":"point","opacity":0},"encoding":{"x":{"datum":700,"type":"quantitative","scale":{"domain":[300,1150],"nice":false,"zero":false},"axis":{"orient":"top","values":[350,450,500,550,650,700,750,850,900,950,1050,1100],"grid":false,"tickSize":-6,"tickWidth":1.5,"labels":false,"domain":false,"title":null}},"y":{"datum":-3,"type":"quantitative","scale":{"domain":[-5,-1.602],"nice":false,"zero":false},"axis":{"orient":"right","values":[-4.699,-4.523,-4.398,-4.301,-4.222,-4.155,-4.097,-4.046,-3.699,-3.523,-3.398,-3.301,-3.222,-3.155,-3.097,-3.046,-2.699,-2.523,-2.398,-2.301,-2.222,-2.155,-2.097,-2.046,-1.699],"grid":false,"tickSize":-7,"tickWidth":1.5,"labels":false,"domain":false,"title":null}}}},
{"mark":{"type":"point","opacity":0},"encoding":{"x":{"datum":700,"type":"quantitative","scale":{"domain":[300,1150],"nice":false,"zero":false},"axis":{"orient":"top","values":[400,600,800,1000],"grid":false,"tickSize":-12,"tickWidth":2,"labels":false,"domain":true,"domainWidth":1.5,"title":null}},"y":{"datum":-3,"type":"quantitative","scale":{"domain":[-5,-1.602],"nice":false,"zero":false},"axis":{"orient":"right","values":[-5,-4,-3,-2],"grid":false,"tickSize":-15,"tickWidth":2,"labels":false,"domain":true,"domainWidth":1.5,"title":null}}}}
],"resolve":{"axis":{"x":"independent","y":"independent"}}},
{"width":368,"height":367,"data":{"name":"Moy"},
"layer":[
{"mark":{"type":"area","clip":true,"interpolate":"linear"},"encoding":{"x":{"field":"T","type":"quantitative","scale":{"domain":[300,1150],"nice":false,"zero":false},"axis":{"orient":"bottom","values":[350,450,500,550,650,700,750,850,900,950,1050,1100],"grid":true,"gridDash":[4,4],"gridWidth":1,"tickSize":-6,"tickWidth":1.5,"labels":false,"domain":false,"title":null}},"y":{"field":"v","type":"quantitative","scale":{"domain":[-5,-1.602],"nice":false,"zero":false},"axis":{"orient":"left","values":[-4.699,-4.523,-4.398,-4.301,-4.222,-4.155,-4.097,-4.046,-3.699,-3.523,-3.398,-3.301,-3.222,-3.155,-3.097,-3.046,-2.699,-2.523,-2.398,-2.301,-2.222,-2.155,-2.097,-2.046,-1.699],"grid":true,"gridDash":[4,4],"gridWidth":1,"tickSize":-7,"tickWidth":1.5,"labels":false,"domain":false,"title":null}},"y2":{"datum":-1.602},"color":{"field":"k","type":"nominal","legend":null,"scale":{"domain":[-3,-2,-1,0,1,2,3,4,5,6,7,8,9,10,11,12,13,14,15,16,17,18],"range":["#ff4500","#ff4500","#ffffff","#ffffff","#e6f2ff","#d9ecff","#cce6ff","#bfdfff","#b3d9ff","#a6d3ff","#99ccff","#8cc6ff","#80c0ff","#73b9ff","#66b3ff","#59acff","#4da6ff","#40a0ff","#3399ff","#2693ff","#1a8dff","#0d86ff"]}}}},
{"mark":{"type":"point","opacity":0},"encoding":{"x":{"datum":700,"type":"quantitative","scale":{"domain":[300,1150],"nice":false,"zero":false},"axis":{"orient":"bottom","values":[400,600,800,1000],"grid":true,"gridWidth":1.5,"tickSize":-12,"tickWidth":2,"labels":false,"domain":true,"domainWidth":1.5,"title":null}},"y":{"datum":-3,"type":"quantitative","scale":{"domain":[-5,-1.602],"nice":false,"zero":false},"axis":{"orient":"left","values":[-5,-4,-3,-2],"grid":true,"gridWidth":1.5,"tickSize":-15,"tickWidth":2,"labels":false,"domain":true,"domainWidth":1.5,"title":null}}}},
{"mark":{"type":"point","opacity":0},"encoding":{"x":{"datum":700,"type":"quantitative","scale":{"domain":[300,1150],"nice":false,"zero":false},"axis":{"orient":"top","values":[350,450,500,550,650,700,750,850,900,950,1050,1100],"grid":false,"tickSize":-6,"tickWidth":1.5,"labels":false,"domain":false,"title":null}},"y":{"datum":-3,"type":"quantitative","scale":{"domain":[-5,-1.602],"nice":false,"zero":false},"axis":{"orient":"right","values":[-4.699,-4.523,-4.398,-4.301,-4.222,-4.155,-4.097,-4.046,-3.699,-3.523,-3.398,-3.301,-3.222,-3.155,-3.097,-3.046,-2.699,-2.523,-2.398,-2.301,-2.222,-2.155,-2.097,-2.046,-1.699],"grid":false,"tickSize":-7,"tickWidth":1.5,"labels":false,"domain":false,"title":null}}}},
{"mark":{"type":"point","opacity":0},"encoding":{"x":{"datum":700,"type":"quantitative","scale":{"domain":[300,1150],"nice":false,"zero":false},"axis":{"orient":"top","values":[400,600,800,1000],"grid":false,"tickSize":-12,"tickWidth":2,"labels":false,"domain":true,"domainWidth":1.5,"title":null}},"y":{"datum":-3,"type":"quantitative","scale":{"domain":[-5,-1.602],"nice":false,"zero":false},"axis":{"orient":"right","values":[-5,-4,-3,-2],"grid":false,"tickSize":-15,"tickWidth":2,"labels":false,"domain":true,"domainWidth":1.5,"title":null}}}}
],"resolve":{"axis":{"x":"independent","y":"independent"}}},
{"width":368,"height":367,"data":{"name":"Moz"},
"layer":[
{"mark":{"type":"area","clip":true,"interpolate":"linear"},"encoding":{"x":{"field":"T","type":"quantitative","scale":{"domain":[300,1150],"nice":false,"zero":false},"axis":{"orient":"bottom","values":[350,450,500,550,650,700,750,850,900,950,1050,1100],"grid":true,"gridDash":[4,4],"gridWidth":1,"tickSize":-6,"tickWidth":1.5,"labels":false,"domain":false,"title":null}},"y":{"field":"v","type":"quantitative","scale":{"domain":[-5,-1.602],"nice":false,"zero":false},"axis":{"orient":"left","values":[-4.699,-4.523,-4.398,-4.301,-4.222,-4.155,-4.097,-4.046,-3.699,-3.523,-3.398,-3.301,-3.222,-3.155,-3.097,-3.046,-2.699,-2.523,-2.398,-2.301,-2.222,-2.155,-2.097,-2.046,-1.699],"grid":true,"gridDash":[4,4],"gridWidth":1,"tickSize":-7,"tickWidth":1.5,"labels":false,"domain":false,"title":null}},"y2":{"datum":-1.602},"color":{"field":"k","type":"nominal","legend":null,"scale":{"domain":[-3,-2,-1,0,1,2,3,4,5,6,7,8,9,10,11,12,13,14,15,16,17,18],"range":["#ff4500","#ff4500","#ffffff","#ffffff","#e6f2ff","#d9ecff","#cce6ff","#bfdfff","#b3d9ff","#a6d3ff","#99ccff","#8cc6ff","#80c0ff","#73b9ff","#66b3ff","#59acff","#4da6ff","#40a0ff","#3399ff","#2693ff","#1a8dff","#0d86ff"]}}}},
{"mark":{"type":"point","opacity":0},"encoding":{"x":{"datum":700,"type":"quantitative","scale":{"domain":[300,1150],"nice":false,"zero":false},"axis":{"orient":"bottom","values":[400,600,800,1000],"grid":true,"gridWidth":1.5,"tickSize":-12,"tickWidth":2,"labels":false,"domain":true,"domainWidth":1.5,"title":null}},"y":{"datum":-3,"type":"quantitative","scale":{"domain":[-5,-1.602],"nice":false,"zero":false},"axis":{"orient":"left","values":[-5,-4,-3,-2],"grid":true,"gridWidth":1.5,"tickSize":-15,"tickWidth":2,"labels":false,"domain":true,"domainWidth":1.5,"title":null}}}},
{"mark":{"type":"point","opacity":0},"encoding":{"x":{"datum":700,"type":"quantitative","scale":{"domain":[300,1150],"nice":false,"zero":false},"axis":{"orient":"top","values":[350,450,500,550,650,700,750,850,900,950,1050,1100],"grid":false,"tickSize":-6,"tickWidth":1.5,"labels":false,"domain":false,"title":null}},"y":{"datum":-3,"type":"quantitative","scale":{"domain":[-5,-1.602],"nice":false,"zero":false},"axis":{"orient":"right","values":[-4.699,-4.523,-4.398,-4.301,-4.222,-4.155,-4.097,-4.046,-3.699,-3.523,-3.398,-3.301,-3.222,-3.155,-3.097,-3.046,-2.699,-2.523,-2.398,-2.301,-2.222,-2.155,-2.097,-2.046,-1.699],"grid":false,"tickSize":-7,"tickWidth":1.5,"labels":false,"domain":false,"title":null}}}},
{"mark":{"type":"point","opacity":0},"encoding":{"x":{"datum":700,"type":"quantitative","scale":{"domain":[300,1150],"nice":false,"zero":false},"axis":{"orient":"top","values":[400,600,800,1000],"grid":false,"tickSize":-12,"tickWidth":2,"labels":false,"domain":true,"domainWidth":1.5,"title":null}},"y":{"datum":-3,"type":"quantitative","scale":{"domain":[-5,-1.602],"nice":false,"zero":false},"axis":{"orient":"right","values":[-5,-4,-3,-2],"grid":false,"tickSize":-15,"tickWidth":2,"labels":false,"domain":true,"domainWidth":1.5,"title":null}}}}
],"resolve":{"axis":{"x":"independent","y":"independent"}}}
],"spacing":26},
{"hconcat":[
{"width":368,"height":367,"data":{"name":"Mnx"},
"layer":[
{"mark":{"type":"area","clip":true,"interpolate":"linear"},"encoding":{"x":{"field":"T","type":"quantitative","scale":{"domain":[300,1150],"nice":false,"zero":false},"axis":{"orient":"bottom","values":[350,450,500,550,650,700,750,850,900,950,1050,1100],"grid":true,"gridDash":[4,4],"gridWidth":1,"tickSize":-6,"tickWidth":1.5,"labels":false,"domain":false,"title":null}},"y":{"field":"v","type":"quantitative","scale":{"domain":[-5,-1.602],"nice":false,"zero":false},"axis":{"orient":"left","values":[-4.699,-4.523,-4.398,-4.301,-4.222,-4.155,-4.097,-4.046,-3.699,-3.523,-3.398,-3.301,-3.222,-3.155,-3.097,-3.046,-2.699,-2.523,-2.398,-2.301,-2.222,-2.155,-2.097,-2.046,-1.699],"grid":true,"gridDash":[4,4],"gridWidth":1,"tickSize":-7,"tickWidth":1.5,"labels":false,"domain":false,"title":null}},"y2":{"datum":-1.602},"color":{"field":"k","type":"nominal","legend":null,"scale":{"domain":[-3,-2,-1,0,1,2,3,4,5,6,7,8,9,10,11,12,13,14,15,16,17,18],"range":["#ff4500","#ff4500","#ffffff","#ffffff","#e6f2ff","#d9ecff","#cce6ff","#bfdfff","#b3d9ff","#a6d3ff","#99ccff","#8cc6ff","#80c0ff","#73b9ff","#66b3ff","#59acff","#4da6ff","#40a0ff","#3399ff","#2693ff","#1a8dff","#0d86ff"]}}}},
{"mark":{"type":"point","opacity":0},"encoding":{"x":{"datum":700,"type":"quantitative","scale":{"domain":[300,1150],"nice":false,"zero":false},"axis":{"orient":"bottom","values":[400,600,800,1000],"format":"d","grid":true,"gridWidth":1.5,"tickSize":-12,"tickWidth":2,"labels":true,"labelPadding":18,"domain":true,"domainWidth":1.5,"title":"Temperature (K)","titlePadding":2}},"y":{"datum":-3,"type":"quantitative","scale":{"domain":[-5,-1.602],"nice":false,"zero":false},"axis":{"orient":"left","values":[-5,-4,-3,-2],"grid":true,"gridWidth":1.5,"tickSize":-15,"tickWidth":2,"labels":true,"labelPadding":24,"labelExpr":"datum.value == -5 ? '10⁻⁵' : datum.value == -4 ? '10⁻⁴' : datum.value == -3 ? '10⁻³' : '10⁻²'","domain":true,"domainWidth":1.5,"title":"[Mn]","titlePadding":12}}}},
{"mark":{"type":"point","opacity":0},"encoding":{"x":{"datum":700,"type":"quantitative","scale":{"domain":[300,1150],"nice":false,"zero":false},"axis":{"orient":"top","values":[350,450,500,550,650,700,750,850,900,950,1050,1100],"grid":false,"tickSize":-6,"tickWidth":1.5,"labels":false,"domain":false,"title":null}},"y":{"datum":-3,"type":"quantitative","scale":{"domain":[-5,-1.602],"nice":false,"zero":false},"axis":{"orient":"right","values":[-4.699,-4.523,-4.398,-4.301,-4.222,-4.155,-4.097,-4.046,-3.699,-3.523,-3.398,-3.301,-3.222,-3.155,-3.097,-3.046,-2.699,-2.523,-2.398,-2.301,-2.222,-2.155,-2.097,-2.046,-1.699],"grid":false,"tickSize":-7,"tickWidth":1.5,"labels":false,"domain":false,"title":null}}}},
{"mark":{"type":"point","opacity":0},"encoding":{"x":{"datum":700,"type":"quantitative","scale":{"domain":[300,1150],"nice":false,"zero":false},"axis":{"orient":"top","values":[400,600,800,1000],"grid":false,"tickSize":-12,"tickWidth":2,"labels":false,"domain":true,"domainWidth":1.5,"title":null}},"y":{"datum":-3,"type":"quantitative","scale":{"domain":[-5,-1.602],"nice":false,"zero":false},"axis":{"orient":"right","values":[-5,-4,-3,-2],"grid":false,"tickSize":-15,"tickWidth":2,"labels":false,"domain":true,"domainWidth":1.5,"title":null}}}}
],"resolve":{"axis":{"x":"independent","y":"independent"}}},
{"width":368,"height":367,"data":{"name":"Mny"},
"layer":[
{"mark":{"type":"area","clip":true,"interpolate":"linear"},"encoding":{"x":{"field":"T","type":"quantitative","scale":{"domain":[300,1150],"nice":false,"zero":false},"axis":{"orient":"bottom","values":[350,450,500,550,650,700,750,850,900,950,1050,1100],"grid":true,"gridDash":[4,4],"gridWidth":1,"tickSize":-6,"tickWidth":1.5,"labels":false,"domain":false,"title":null}},"y":{"field":"v","type":"quantitative","scale":{"domain":[-5,-1.602],"nice":false,"zero":false},"axis":{"orient":"left","values":[-4.699,-4.523,-4.398,-4.301,-4.222,-4.155,-4.097,-4.046,-3.699,-3.523,-3.398,-3.301,-3.222,-3.155,-3.097,-3.046,-2.699,-2.523,-2.398,-2.301,-2.222,-2.155,-2.097,-2.046,-1.699],"grid":true,"gridDash":[4,4],"gridWidth":1,"tickSize":-7,"tickWidth":1.5,"labels":false,"domain":false,"title":null}},"y2":{"datum":-1.602},"color":{"field":"k","type":"nominal","legend":null,"scale":{"domain":[-3,-2,-1,0,1,2,3,4,5,6,7,8,9,10,11,12,13,14,15,16,17,18],"range":["#ff4500","#ff4500","#ffffff","#ffffff","#e6f2ff","#d9ecff","#cce6ff","#bfdfff","#b3d9ff","#a6d3ff","#99ccff","#8cc6ff","#80c0ff","#73b9ff","#66b3ff","#59acff","#4da6ff","#40a0ff","#3399ff","#2693ff","#1a8dff","#0d86ff"]}}}},
{"mark":{"type":"point","opacity":0},"encoding":{"x":{"datum":700,"type":"quantitative","scale":{"domain":[300,1150],"nice":false,"zero":false},"axis":{"orient":"bottom","values":[400,600,800,1000],"format":"d","grid":true,"gridWidth":1.5,"tickSize":-12,"tickWidth":2,"labels":true,"labelPadding":18,"domain":true,"domainWidth":1.5,"title":"Temperature (K)","titlePadding":2}},"y":{"datum":-3,"type":"quantitative","scale":{"domain":[-5,-1.602],"nice":false,"zero":false},"axis":{"orient":"left","values":[-5,-4,-3,-2],"grid":true,"gridWidth":1.5,"tickSize":-15,"tickWidth":2,"labels":false,"domain":true,"domainWidth":1.5,"title":null}}}},
{"mark":{"type":"point","opacity":0},"encoding":{"x":{"datum":700,"type":"quantitative","scale":{"domain":[300,1150],"nice":false,"zero":false},"axis":{"orient":"top","values":[350,450,500,550,650,700,750,850,900,950,1050,1100],"grid":false,"tickSize":-6,"tickWidth":1.5,"labels":false,"domain":false,"title":null}},"y":{"datum":-3,"type":"quantitative","scale":{"domain":[-5,-1.602],"nice":false,"zero":false},"axis":{"orient":"right","values":[-4.699,-4.523,-4.398,-4.301,-4.222,-4.155,-4.097,-4.046,-3.699,-3.523,-3.398,-3.301,-3.222,-3.155,-3.097,-3.046,-2.699,-2.523,-2.398,-2.301,-2.222,-2.155,-2.097,-2.046,-1.699],"grid":false,"tickSize":-7,"tickWidth":1.5,"labels":false,"domain":false,"title":null}}}},
{"mark":{"type":"point","opacity":0},"encoding":{"x":{"datum":700,"type":"quantitative","scale":{"domain":[300,1150],"nice":false,"zero":false},"axis":{"orient":"top","values":[400,600,800,1000],"grid":false,"tickSize":-12,"tickWidth":2,"labels":false,"domain":true,"domainWidth":1.5,"title":null}},"y":{"datum":-3,"type":"quantitative","scale":{"domain":[-5,-1.602],"nice":false,"zero":false},"axis":{"orient":"right","values":[-5,-4,-3,-2],"grid":false,"tickSize":-15,"tickWidth":2,"labels":false,"domain":true,"domainWidth":1.5,"title":null}}}}
],"resolve":{"axis":{"x":"independent","y":"independent"}}},
{"width":368,"height":367,"data":{"name":"Mnz"},
"layer":[
{"mark":{"type":"area","clip":true,"interpolate":"linear"},"encoding":{"x":{"field":"T","type":"quantitative","scale":{"domain":[300,1150],"nice":false,"zero":false},"axis":{"orient":"bottom","values":[350,450,500,550,650,700,750,850,900,950,1050,1100],"grid":true,"gridDash":[4,4],"gridWidth":1,"tickSize":-6,"tickWidth":1.5,"labels":false,"domain":false,"title":null}},"y":{"field":"v","type":"quantitative","scale":{"domain":[-5,-1.602],"nice":false,"zero":false},"axis":{"orient":"left","values":[-4.699,-4.523,-4.398,-4.301,-4.222,-4.155,-4.097,-4.046,-3.699,-3.523,-3.398,-3.301,-3.222,-3.155,-3.097,-3.046,-2.699,-2.523,-2.398,-2.301,-2.222,-2.155,-2.097,-2.046,-1.699],"grid":true,"gridDash":[4,4],"gridWidth":1,"tickSize":-7,"tickWidth":1.5,"labels":false,"domain":false,"title":null}},"y2":{"datum":-1.602},"color":{"field":"k","type":"nominal","legend":null,"scale":{"domain":[-3,-2,-1,0,1,2,3,4,5,6,7,8,9,10,11,12,13,14,15,16,17,18],"range":["#ff4500","#ff4500","#ffffff","#ffffff","#e6f2ff","#d9ecff","#cce6ff","#bfdfff","#b3d9ff","#a6d3ff","#99ccff","#8cc6ff","#80c0ff","#73b9ff","#66b3ff","#59acff","#4da6ff","#40a0ff","#3399ff","#2693ff","#1a8dff","#0d86ff"]}}}},
{"mark":{"type":"point","opacity":0},"encoding":{"x":{"datum":700,"type":"quantitative","scale":{"domain":[300,1150],"nice":false,"zero":false},"axis":{"orient":"bottom","values":[400,600,800,1000],"format":"d","grid":true,"gridWidth":1.5,"tickSize":-12,"tickWidth":2,"labels":true,"labelPadding":18,"domain":true,"domainWidth":1.5,"title":"Temperature (K)","titlePadding":2}},"y":{"datum":-3,"type":"quantitative","scale":{"domain":[-5,-1.602],"nice":false,"zero":false},"axis":{"orient":"left","values":[-5,-4,-3,-2],"grid":true,"gridWidth":1.5,"tickSize":-15,"tickWidth":2,"labels":false,"domain":true,"domainWidth":1.5,"title":null}}}},
{"mark":{"type":"point","opacity":0},"encoding":{"x":{"datum":700,"type":"quantitative","scale":{"domain":[300,1150],"nice":false,"zero":false},"axis":{"orient":"top","values":[350,450,500,550,650,700,750,850,900,950,1050,1100],"grid":false,"tickSize":-6,"tickWidth":1.5,"labels":false,"domain":false,"title":null}},"y":{"datum":-3,"type":"quantitative","scale":{"domain":[-5,-1.602],"nice":false,"zero":false},"axis":{"orient":"right","values":[-4.699,-4.523,-4.398,-4.301,-4.222,-4.155,-4.097,-4.046,-3.699,-3.523,-3.398,-3.301,-3.222,-3.155,-3.097,-3.046,-2.699,-2.523,-2.398,-2.301,-2.222,-2.155,-2.097,-2.046,-1.699],"grid":false,"tickSize":-7,"tickWidth":1.5,"labels":false,"domain":false,"title":null}}}},
{"mark":{"type":"point","opacity":0},"encoding":{"x":{"datum":700,"type":"quantitative","scale":{"domain":[300,1150],"nice":false,"zero":false},"axis":{"orient":"top","values":[400,600,800,1000],"grid":false,"tickSize":-12,"tickWidth":2,"labels":false,"domain":true,"domainWidth":1.5,"title":null}},"y":{"datum":-3,"type":"quantitative","scale":{"domain":[-5,-1.602],"nice":false,"zero":false},"axis":{"orient":"right","values":[-5,-4,-3,-2],"grid":false,"tickSize":-15,"tickWidth":2,"labels":false,"domain":true,"domainWidth":1.5,"title":null}}}}
],"resolve":{"axis":{"x":"independent","y":"independent"}}}
],"spacing":26}
]},
{"spacing":0,"vconcat":[
{"width":18,"height":342,"data":{"name":"cbar"},"mark":{"type":"point","opacity":0},"view":{"stroke":null}},
{"width":18,"height":367,"data":{"name":"cbar"},
"title":{"text":"δD","anchor":"start","frame":"group","dx":29,"offset":-48,"baseline":"bottom","fontSize":28},
"mark":{"type":"rect"},
"encoding":{
"y":{"field":"lo","type":"quantitative","scale":{"domain":[-0.95,0.15],"nice":false,"zero":false},"axis":{"orient":"right","values":[0.1,0,-0.1,-0.2,-0.3,-0.4,-0.5,-0.6,-0.7,-0.8,-0.9],"labelExpr":"datum.value > -0.01 ? '+' + format(abs(datum.value), '.1f') : '−' + format(abs(datum.value), '.1f')","tickSize":-18,"tickWidth":1,"labelPadding":26,"domain":false,"grid":false,"title":"C","titleAngle":0,"titleX":56,"titleY":-13,"titleAlign":"center","titleBaseline":"alphabetic","titleFontSize":22}},
"y2":{"field":"hi"},
"color":{"field":"k","type":"nominal","legend":null,"scale":{"domain":[-3,-2,-1,0,1,2,3,4,5,6,7,8,9,10,11,12,13,14,15,16,17,18],"range":["#ff4500","#ff4500","#ffffff","#ffffff","#e6f2ff","#d9ecff","#cce6ff","#bfdfff","#b3d9ff","#a6d3ff","#99ccff","#8cc6ff","#80c0ff","#73b9ff","#66b3ff","#59acff","#4da6ff","#40a0ff","#3399ff","#2693ff","#1a8dff","#0d86ff"]}}}}
]}
]
}
